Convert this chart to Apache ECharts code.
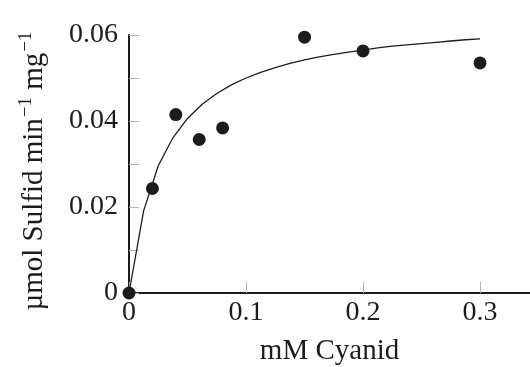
<!DOCTYPE html>
<html>
<head>
<meta charset="utf-8">
<script src="https://cdn.jsdelivr.net/npm/echarts@6/dist/echarts.min.js"></script>
<style>html,body{margin:0;padding:0;background:#fff}#c{width:530px;height:367px}</style>
</head>
<body>
<div id="c"></div>
<script>
// Measured data points (mM cyanide vs µmol sulfide / min / mg)
const cyanid = [0, 0.02, 0.04, 0.06, 0.08, 0.15, 0.2, 0.3];
const sulfid = [0, 0.0243, 0.0415, 0.0357, 0.0384, 0.0595, 0.0563, 0.0535];
const curveX = [0, 0.0125, 0.025, 0.0375, 0.05, 0.0625, 0.075, 0.0875, 0.1, 0.1125, 0.125, 0.1375, 0.15, 0.1625, 0.175, 0.1875, 0.2, 0.2125, 0.225, 0.2375, 0.25, 0.2625, 0.275, 0.2875, 0.3];
const curveY = [0, 0.0191, 0.0296, 0.0361, 0.0406, 0.0439, 0.0464, 0.0484, 0.0500, 0.0513, 0.0524, 0.0534, 0.0542, 0.0549, 0.0555, 0.0560, 0.0565, 0.0570, 0.0574, 0.0577, 0.0580, 0.0583, 0.0586, 0.0589, 0.0591];
const yTicks = [0, 0.02, 0.04, 0.06];
const xTicks = [0, 0.1, 0.2, 0.3];

const FONT = '"Liberation Serif", "DejaVu Serif", serif';
const INK = '#1f1b1c';
const chart = echarts.init(document.getElementById('c'), null, {renderer: 'canvas'});
chart.setOption({
  animation: false,
  backgroundColor: '#fff',
  grid: {left: 129, right: 0, top: 35, bottom: 74, containLabel: false, outerBoundsMode: 'none'},
  xAxis: {
    type: 'value', min: 0, max: 0.3427, interval: 0.1,
    name: 'mM Cyanid', nameLocation: 'middle', nameGap: 44,
    nameTextStyle: {fontFamily: FONT, fontSize: 29, color: INK},
    axisLine: {show: true, onZero: false, lineStyle: {color: INK, width: 2}},
    axisTick: {show: true, inside: true, length: 11, lineStyle: {color: '#b5b5b5', width: 1}},
    axisLabel: {fontFamily: FONT, fontSize: 28, color: INK, margin: 6, showMaxLabel: false,
      formatter: v => xTicks.some(t => Math.abs(t - v) < 1e-9) ? String(+v.toFixed(2)) : ''},
    splitLine: {show: false}
  },
  yAxis: {
    type: 'value', min: 0, max: 0.06, interval: 0.01,
    name: '{t|µmol Sulfid min}{s|−1}{t| mg}{s|−1}', nameLocation: 'middle', nameGap: 80, nameRotate: 90,
    nameTextStyle: {fontFamily: FONT, fontSize: 29, color: INK, padding: [0, 14, 0, 0],
      rich: {
        t: {fontFamily: FONT, fontSize: 29, color: INK, lineHeight: 32, verticalAlign: 'bottom'},
        s: {fontFamily: FONT, fontSize: 19, color: INK, lineHeight: 32, verticalAlign: 'top', padding: [0, 0, 0, 1]}
      }},
    axisLine: {show: true, onZero: false, lineStyle: {color: INK, width: 2}},
    axisTick: {show: true, inside: true, length: 10, lineStyle: {color: '#b5b5b5', width: 1}},
    axisLabel: {fontFamily: FONT, fontSize: 28, color: INK, margin: 11,
      formatter: v => yTicks.some(t => Math.abs(t - v) < 1e-9) ? String(+v.toFixed(2)) : ''},
    splitLine: {show: false}
  },
  series: [
    {
      type: 'line', data: curveX.map((x, i) => [x, curveY[i]]),
      showSymbol: false, symbol: 'none', smooth: false,
      lineStyle: {color: INK, width: 1.3}, z: 2
    },
    {
      type: 'scatter', data: cyanid.map((x, i) => [x, sulfid[i]]),
      symbol: 'circle', symbolSize: 13, itemStyle: {color: INK, opacity: 1}, z: 3, clip: false
    }
  ]
});
</script>
</body>
</html>
